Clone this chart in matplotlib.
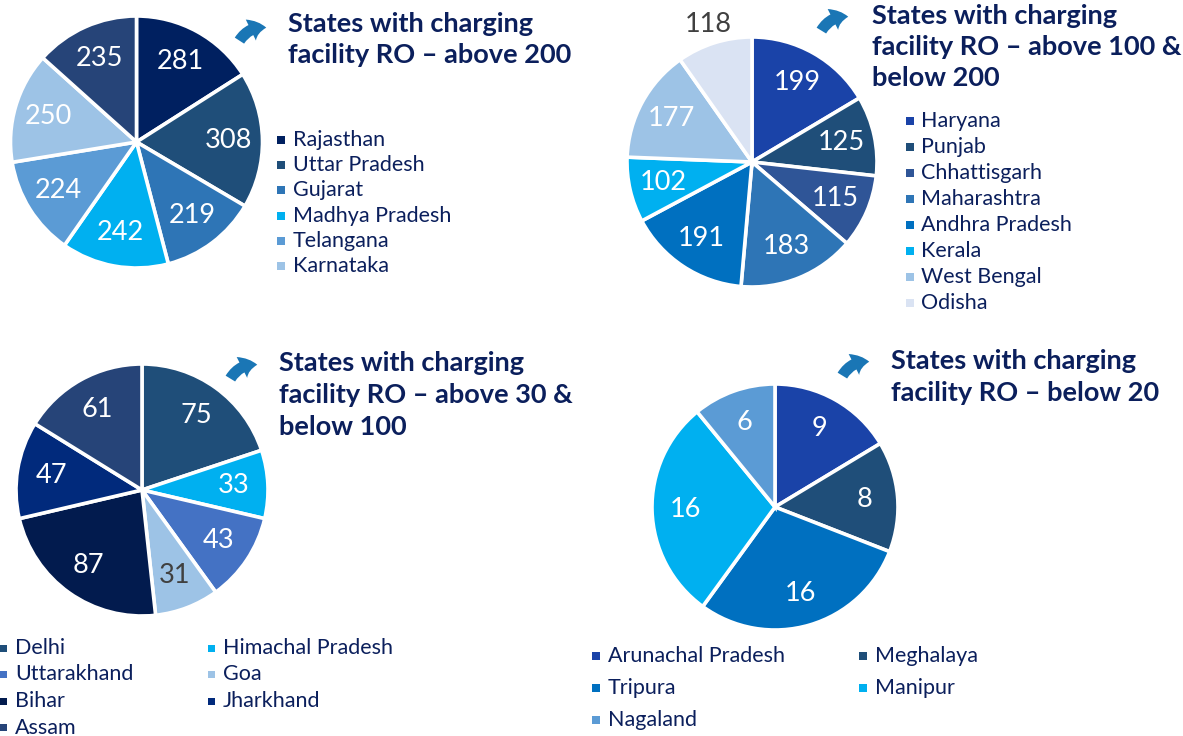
import matplotlib
matplotlib.use("Agg")
import matplotlib.pyplot as plt
import numpy as np
from matplotlib.patches import Rectangle, FancyArrowPatch
from matplotlib import font_manager

W, H = 1183, 736

# ---------------- data ----------------
names1 = ["Rajasthan", "Uttar Pradesh", "Gujarat", "Madhya Pradesh", "Telangana", "Karnataka"]
values1 = [281, 308, 219, 242, 224, 250, 235]
colors1 = ["#002060", "#1F4E79", "#2E75B6", "#00B0F0", "#5B9BD5", "#9DC3E6", "#264478"]
title1 = ["States with charging", "facility RO \u2013 above 200"]

names2 = ["Haryana", "Punjab", "Chhattisgarh", "Maharashtra", "Andhra Pradesh", "Kerala", "West Bengal", "Odisha"]
values2 = [199, 125, 115, 183, 191, 102, 177, 118]
colors2 = ["#1A43A8", "#1F4E79", "#2F5597", "#2E75B6", "#0070C0", "#00B0F0", "#9DC3E6", "#DAE3F3"]
title2 = ["States with charging", "facility RO \u2013 above 100 &", "below 200"]

names3 = ["Delhi", "Himachal Pradesh", "Uttarakhand", "Goa", "Bihar", "Jharkhand", "Assam"]
values3 = [75, 33, 43, 31, 87, 47, 61]
colors3 = ["#1F4E79", "#00B0F0", "#4472C4", "#9DC3E6", "#021B4E", "#012A7C", "#264478"]
title3 = ["States with charging", "facility RO \u2013 above 30 &", "below 100"]

names4 = ["Arunachal Pradesh", "Meghalaya", "Tripura", "Manipur", "Nagaland"]
values4 = [9, 8, 16, 16, 6]
colors4 = ["#1A43A8", "#1F4E79", "#0070C0", "#00B0F0", "#5B9BD5"]
title4 = ["States with charging", "facility RO \u2013 below 20"]

NAVY = "#0B1F5C"
GRAY = "#404040"
ARROW = "#1A76B5"

# pick a font family that has a real bold face
def has_bold(fam):
    return any(f.name == fam and (f.weight in ("bold", 700) or str(f.weight) == "700")
               for f in font_manager.fontManager.ttflist)

FAMILY = "Lato"
for cand in ["Lato", "Open Sans", "Noto Sans", "Roboto", "DejaVu Sans"]:
    if has_bold(cand):
        FAMILY = cand
        break
plt.rcParams['font.family'] = [FAMILY, 'DejaVu Sans']

fig = plt.figure(figsize=(W / 100, H / 100), dpi=100)
fig.patch.set_facecolor("white")


def fx(x):
    return x / W


def fy(y):
    return 1 - y / H


def draw_pie(cx, cy, r, values, colors, dark_idx=(), outside_idx=(), ld=0.73):
    ax = fig.add_axes([fx(cx - r), fy(cy + r), 2 * r / W, 2 * r / H])
    wedges, _ = ax.pie(values, colors=colors, startangle=90, counterclock=False,
                       wedgeprops=dict(edgecolor="white", linewidth=2.6))
    ax.set_xlim(-1, 1)
    ax.set_ylim(-1, 1)
    ax.set_aspect("equal")
    ax.axis("off")
    for i, (w, v) in enumerate(zip(wedges, values)):
        ang = np.deg2rad((w.theta1 + w.theta2) / 2)
        d = 1.15 if i in outside_idx else ld
        col = GRAY if (i in dark_idx or i in outside_idx) else "white"
        ax.text(d * np.cos(ang), d * np.sin(ang), str(v), ha="center", va="center",
                fontsize=19.5, color=col, clip_on=False)
    return ax


def draw_title(x, y_centers, lines):
    for yc, line in zip(y_centers, lines):
        fig.text(fx(x), fy(yc + 9), line, ha="left", va="baseline", fontsize=19.5,
                 fontweight="bold", color=NAVY)


def draw_arrow(x0, y0, x1, y1):
    a = FancyArrowPatch((fx(x0), fy(y0)), (fx(x1), fy(y1)), transform=fig.transFigure,
                        connectionstyle="arc3,rad=-0.35",
                        arrowstyle="simple,head_length=0.7,head_width=1.05,tail_width=0.5",
                        mutation_scale=16, color=ARROW, lw=0)
    fig.patches.append(a)


def draw_legend(entries, sq=8, gap=8):
    # entries: (name, color, x_square_left, y_center)
    for name, color, x, y in entries:
        fig.add_artist(Rectangle((fx(x), fy(y + sq / 2)), sq / W, sq / H,
                                 transform=fig.transFigure, facecolor=color,
                                 edgecolor="none"))
        fig.text(fx(x + sq + gap), fy(y), name, ha="left", va="center",
                 fontsize=15.5, color=NAVY)


# Pie 1
draw_pie(136.5, 142, 126, values1, colors1)
draw_title(288, [23, 54], title1)
draw_arrow(238, 43, 269, 28)
draw_legend([(n, c, 277, 140 + 25.2 * i) for i, (n, c) in enumerate(zip(names1, colors1))])

# Pie 2
draw_pie(752, 162, 125, values2, colors2, outside_idx=(7,))
draw_title(872, [15, 46, 77], title2)
draw_arrow(820, 33, 851, 17)
draw_legend([(n, c, 906, 121 + 26 * i) for i, (n, c) in enumerate(zip(names2, colors2))],
            gap=7)

# Pie 3
draw_pie(142, 490, 126, values3, colors3, dark_idx=(3,))
draw_title(279, [362, 394, 426], title3)
draw_arrow(229, 381, 260, 365)
draw_legend([(n, c, 0 if i % 2 == 0 else 208, 648 + 26.5 * (i // 2))
             for i, (n, c) in enumerate(zip(names3, colors3))], sq=7, gap=8)

# Pie 4
draw_pie(775, 507, 123, values4, colors4)
draw_title(891, [360, 392], title4)
draw_arrow(841, 378, 872, 362)
draw_legend([(n, c, 592 if i % 2 == 0 else 859, 656 + 32 * (i // 2))
             for i, (n, c) in enumerate(zip(names4, colors4))])

fig.savefig("out.png", dpi=100, facecolor="white")
